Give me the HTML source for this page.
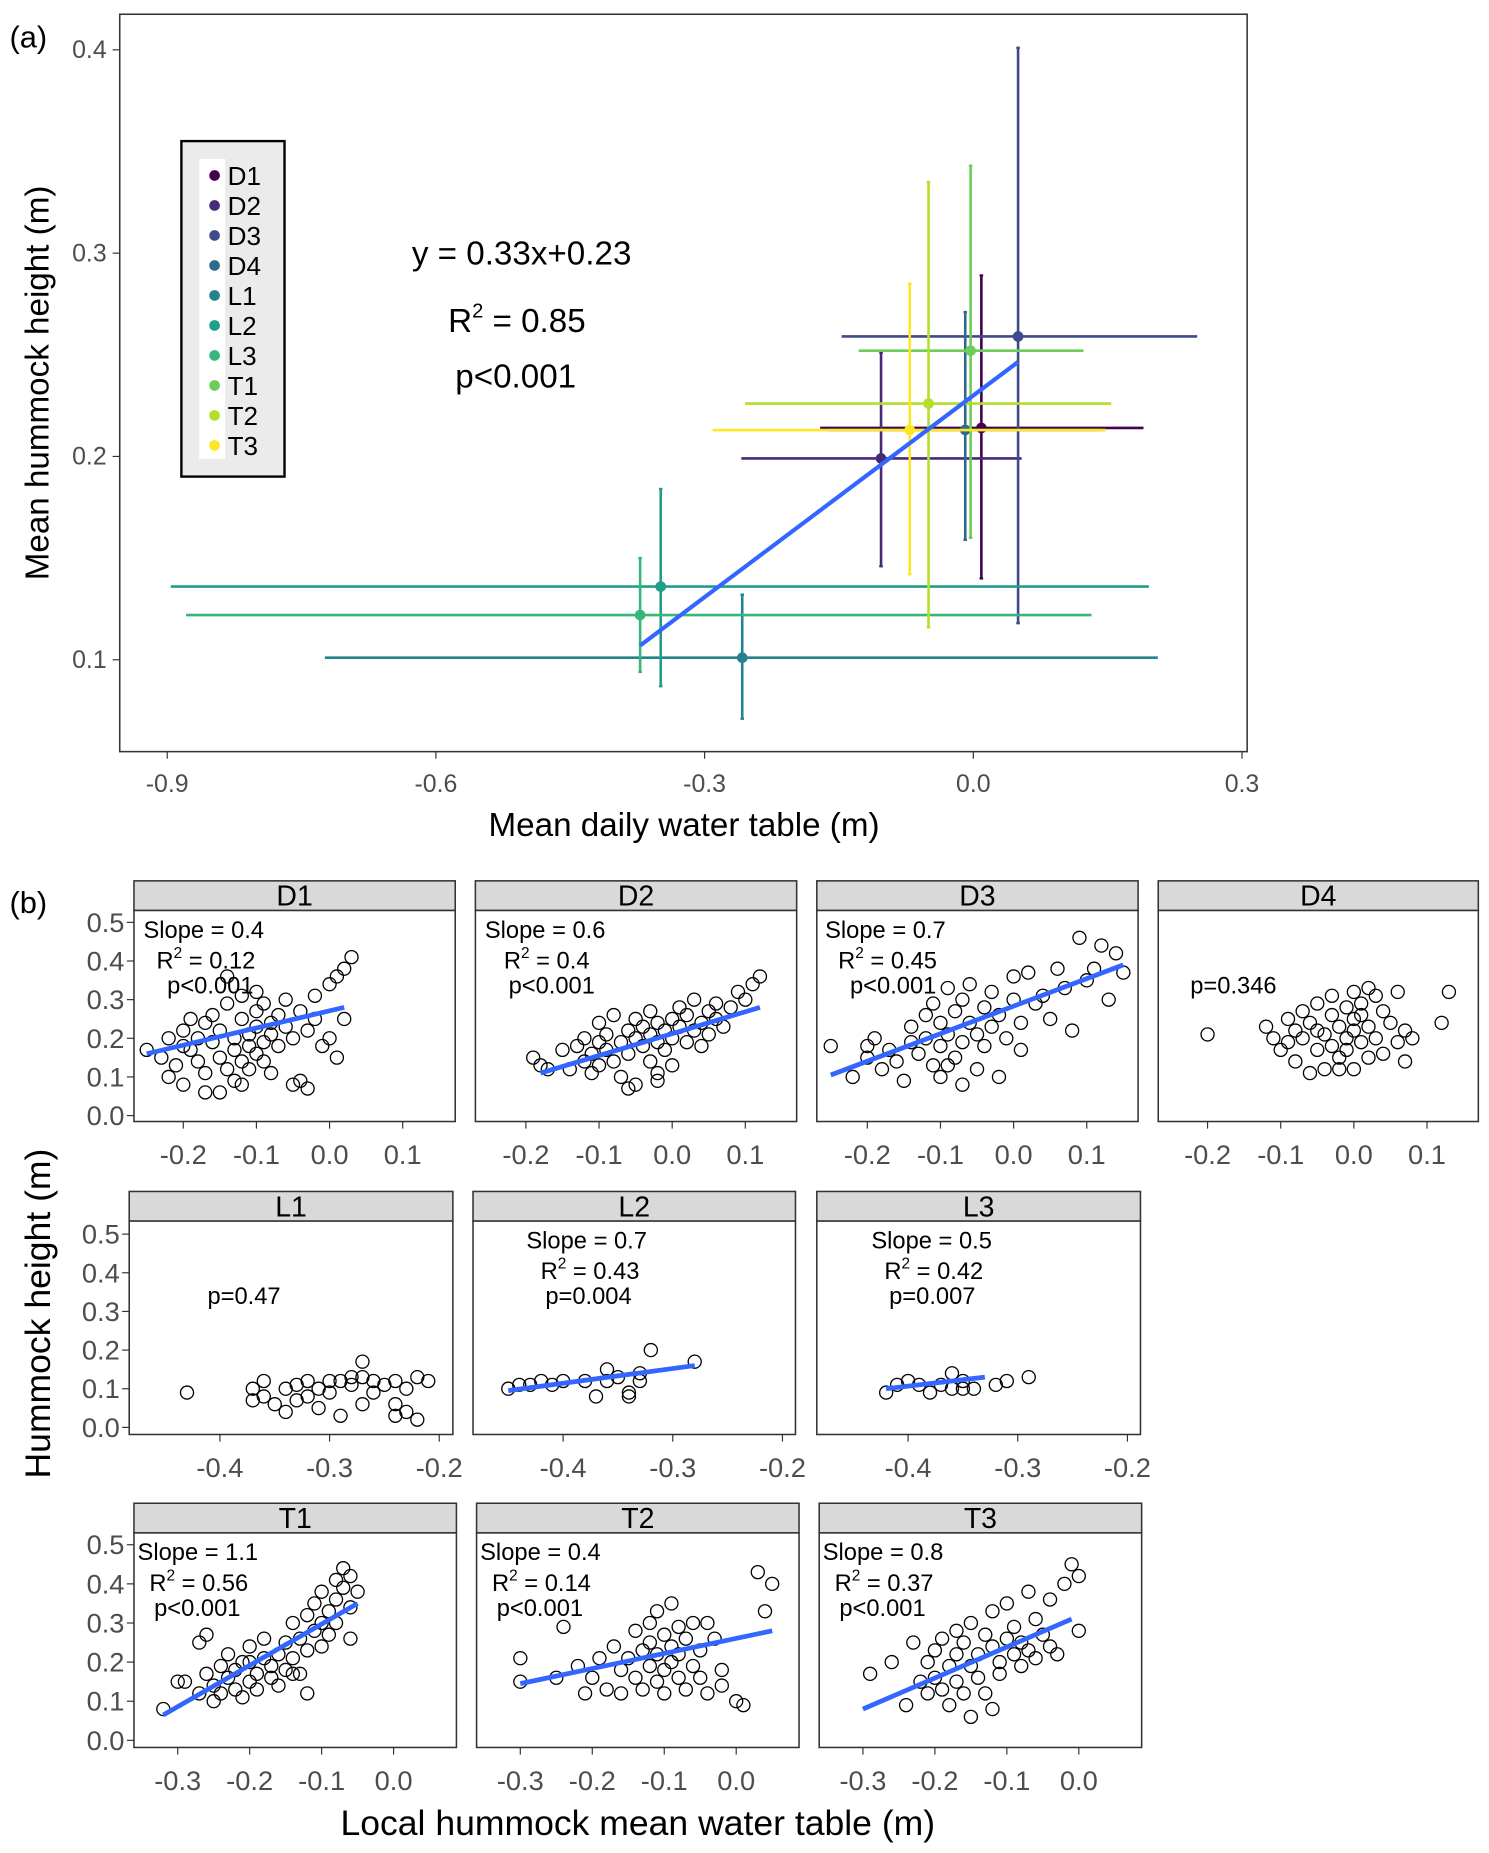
<!DOCTYPE html>
<html><head><meta charset="utf-8">
<style>
html,body{margin:0;padding:0;background:#fff;}
svg{display:block;font-family:"Liberation Sans",Arial,sans-serif;}
.tick{fill:#4d4d4d;font-size:21px;}
.btick{fill:#4d4d4d;font-size:23px;}
.ann{fill:#000;font-size:20px;}
</style></head>
<body>
<svg id="fig" width="1489" height="1853" viewBox="0 0 1256 1563" xmlns="http://www.w3.org/2000/svg">
<text x="8" y="40" font-size="26">(a)</text>
<text x="8" y="770" font-size="26">(b)</text>
<g id="pa"></g>
<g id="pb"></g>
</svg>
<script>
// ---------- Panel (a) data ----------
const siteNames = ["D1","D2","D3","D4","L1","L2","L3","T1","T2","T3"];
const siteColors = ["#440154","#482878","#3E4A89","#31688E","#26828E","#1F9E89","#35B779","#6DCD59","#B4DE2C","#FDE725"];
const meanX = [0.009,-0.103,0.050,-0.009,-0.258,-0.349,-0.372,-0.003,-0.050,-0.071];
const meanY = [0.214,0.199,0.259,0.213,0.101,0.136,0.122,0.252,0.226,0.213];
const xLo = [-0.171,-0.259,-0.147,-0.163,-0.724,-0.896,-0.879,-0.128,-0.255,-0.291];
const xHi = [0.190,0.054,0.250,0.144,0.206,0.196,0.132,0.123,0.154,0.148];
const yLo = [0.140,0.146,0.118,0.159,0.071,0.087,0.094,0.160,0.116,0.142];
const yHi = [0.289,0.251,0.401,0.271,0.132,0.184,0.150,0.343,0.335,0.285];
const fitAX = [-0.372,0.050];
const fitAY = [0.107,0.2465];
const aXTicks = [-0.9,-0.6,-0.3,0.0,0.3];
const aXTickLabels = ["-0.9","-0.6","-0.3","0.0","0.3"];
const aYTicks = [0.1,0.2,0.3,0.4];
const aYTickLabels = ["0.1","0.2","0.3","0.4"];

// ---------- Panel (b) data ----------
const ptsD1=[[-0.25,0.17],[-0.23,0.15],[-0.22,0.2],[-0.22,0.1],[-0.21,0.13],[-0.2,0.22],[-0.2,0.08],[-0.19,0.25],[-0.19,0.17],[-0.18,0.14],[-0.18,0.2],[-0.17,0.24],[-0.17,0.11],[-0.16,0.19],[-0.16,0.26],[-0.15,0.15],[-0.15,0.06],[-0.15,0.22],[-0.14,0.12],[-0.14,0.29],[-0.14,0.36],[-0.13,0.2],[-0.13,0.17],[-0.13,0.09],[-0.12,0.25],[-0.12,0.14],[-0.12,0.31],[-0.11,0.21],[-0.11,0.18],[-0.11,0.12],[-0.1,0.27],[-0.1,0.23],[-0.1,0.32],[-0.1,0.16],[-0.09,0.19],[-0.09,0.29],[-0.09,0.14],[-0.08,0.24],[-0.08,0.21],[-0.08,0.11],[-0.07,0.26],[-0.07,0.18],[-0.06,0.23],[-0.06,0.3],[-0.05,0.2],[-0.05,0.08],[-0.04,0.27],[-0.04,0.09],[-0.03,0.22],[-0.03,0.07],[-0.02,0.25],[-0.02,0.31],[-0.01,0.18],[0,0.34],[0,0.2],[0.01,0.36],[0.01,0.15],[0.02,0.38],[0.02,0.25],[0.03,0.41],[-0.12,0.08],[-0.17,0.06],[-0.2,0.18]];
const ptsD2=[[-0.19,0.15],[-0.18,0.13],[-0.17,0.12],[-0.15,0.17],[-0.14,0.12],[-0.13,0.18],[-0.12,0.14],[-0.12,0.2],[-0.11,0.16],[-0.1,0.19],[-0.1,0.13],[-0.1,0.24],[-0.09,0.17],[-0.09,0.21],[-0.08,0.14],[-0.08,0.26],[-0.07,0.19],[-0.07,0.1],[-0.06,0.22],[-0.06,0.16],[-0.05,0.2],[-0.05,0.25],[-0.05,0.08],[-0.04,0.18],[-0.04,0.23],[-0.03,0.21],[-0.03,0.14],[-0.03,0.27],[-0.02,0.19],[-0.02,0.24],[-0.02,0.11],[-0.01,0.22],[-0.01,0.17],[0,0.25],[0,0.2],[0,0.13],[0.01,0.23],[0.01,0.28],[0.02,0.19],[0.02,0.26],[0.03,0.22],[0.03,0.3],[0.04,0.24],[0.04,0.18],[0.05,0.27],[0.05,0.21],[0.06,0.29],[0.06,0.25],[0.07,0.23],[0.08,0.28],[0.09,0.32],[0.1,0.3],[0.11,0.34],[0.12,0.36],[-0.06,0.07],[-0.11,0.11],[-0.02,0.09]];
const ptsD3=[[-0.25,0.18],[-0.22,0.1],[-0.2,0.15],[-0.19,0.2],[-0.18,0.12],[-0.17,0.17],[-0.16,0.14],[-0.15,0.09],[-0.14,0.19],[-0.14,0.23],[-0.13,0.16],[-0.12,0.26],[-0.12,0.2],[-0.11,0.13],[-0.11,0.29],[-0.1,0.18],[-0.1,0.24],[-0.1,0.1],[-0.09,0.33],[-0.09,0.21],[-0.08,0.27],[-0.08,0.15],[-0.07,0.3],[-0.07,0.19],[-0.07,0.08],[-0.06,0.24],[-0.06,0.34],[-0.05,0.21],[-0.05,0.12],[-0.04,0.28],[-0.04,0.18],[-0.03,0.32],[-0.03,0.23],[-0.02,0.1],[-0.02,0.26],[-0.01,0.2],[0,0.3],[0,0.36],[0.01,0.24],[0.01,0.17],[0.02,0.37],[0.03,0.29],[0.04,0.31],[0.05,0.25],[0.06,0.38],[0.07,0.33],[0.08,0.22],[0.09,0.46],[0.1,0.35],[0.11,0.38],[0.12,0.44],[0.13,0.3],[0.14,0.42],[0.15,0.37],[-0.2,0.18],[-0.09,0.13]];
const ptsD4=[[-0.2,0.21],[-0.12,0.23],[-0.11,0.2],[-0.1,0.17],[-0.09,0.25],[-0.09,0.19],[-0.08,0.22],[-0.08,0.14],[-0.07,0.27],[-0.07,0.2],[-0.06,0.11],[-0.06,0.24],[-0.05,0.17],[-0.05,0.29],[-0.04,0.21],[-0.04,0.12],[-0.03,0.26],[-0.03,0.18],[-0.03,0.31],[-0.02,0.23],[-0.02,0.15],[-0.02,0.12],[-0.01,0.28],[-0.01,0.2],[-0.01,0.17],[0,0.25],[0,0.32],[0,0.22],[0,0.12],[0.01,0.19],[0.01,0.29],[0.01,0.26],[0.02,0.23],[0.02,0.15],[0.03,0.31],[0.03,0.2],[0.04,0.27],[0.04,0.16],[0.05,0.24],[0.06,0.19],[0.06,0.32],[0.07,0.14],[0.07,0.22],[0.08,0.2],[0.12,0.24],[0.13,0.32],[-0.05,0.22],[0.02,0.33]];
const ptsL1=[[-0.43,0.09],[-0.37,0.07],[-0.37,0.1],[-0.36,0.08],[-0.36,0.12],[-0.35,0.06],[-0.34,0.1],[-0.34,0.04],[-0.33,0.11],[-0.33,0.07],[-0.32,0.12],[-0.32,0.08],[-0.31,0.1],[-0.31,0.05],[-0.3,0.12],[-0.3,0.09],[-0.29,0.03],[-0.29,0.12],[-0.28,0.13],[-0.28,0.11],[-0.27,0.17],[-0.27,0.06],[-0.27,0.13],[-0.26,0.12],[-0.26,0.09],[-0.25,0.11],[-0.24,0.06],[-0.24,0.03],[-0.24,0.12],[-0.23,0.1],[-0.23,0.04],[-0.22,0.13],[-0.22,0.02],[-0.21,0.12]];
const ptsL2=[[-0.45,0.1],[-0.44,0.11],[-0.43,0.11],[-0.42,0.12],[-0.41,0.11],[-0.4,0.12],[-0.38,0.12],[-0.37,0.08],[-0.36,0.12],[-0.36,0.15],[-0.35,0.13],[-0.34,0.08],[-0.34,0.09],[-0.33,0.14],[-0.33,0.12],[-0.32,0.2],[-0.28,0.17]];
const ptsL3=[[-0.42,0.09],[-0.41,0.11],[-0.4,0.12],[-0.39,0.11],[-0.38,0.09],[-0.37,0.11],[-0.36,0.1],[-0.36,0.14],[-0.35,0.12],[-0.35,0.1],[-0.34,0.1],[-0.32,0.11],[-0.31,0.12],[-0.29,0.13]];
const ptsT1=[[-0.32,0.08],[-0.3,0.15],[-0.29,0.15],[-0.27,0.25],[-0.26,0.27],[-0.27,0.12],[-0.26,0.17],[-0.25,0.1],[-0.25,0.14],[-0.24,0.19],[-0.24,0.12],[-0.23,0.16],[-0.23,0.22],[-0.22,0.13],[-0.22,0.18],[-0.21,0.2],[-0.21,0.11],[-0.2,0.24],[-0.2,0.15],[-0.19,0.17],[-0.19,0.13],[-0.18,0.21],[-0.18,0.26],[-0.17,0.16],[-0.17,0.19],[-0.16,0.22],[-0.16,0.14],[-0.15,0.25],[-0.15,0.18],[-0.14,0.3],[-0.14,0.21],[-0.13,0.26],[-0.13,0.17],[-0.12,0.32],[-0.12,0.23],[-0.12,0.12],[-0.11,0.28],[-0.11,0.35],[-0.1,0.3],[-0.1,0.24],[-0.1,0.38],[-0.09,0.33],[-0.09,0.27],[-0.08,0.41],[-0.08,0.36],[-0.08,0.3],[-0.07,0.39],[-0.07,0.44],[-0.06,0.34],[-0.06,0.42],[-0.05,0.38],[-0.06,0.26],[-0.14,0.17],[-0.2,0.2]];
const ptsT2=[[-0.3,0.21],[-0.3,0.15],[-0.25,0.16],[-0.24,0.29],[-0.22,0.19],[-0.21,0.12],[-0.2,0.16],[-0.19,0.21],[-0.18,0.13],[-0.17,0.24],[-0.16,0.18],[-0.16,0.12],[-0.15,0.21],[-0.14,0.28],[-0.14,0.16],[-0.13,0.23],[-0.13,0.13],[-0.12,0.3],[-0.12,0.19],[-0.12,0.25],[-0.11,0.15],[-0.11,0.22],[-0.11,0.33],[-0.1,0.18],[-0.1,0.27],[-0.1,0.12],[-0.09,0.24],[-0.09,0.2],[-0.09,0.35],[-0.08,0.16],[-0.08,0.29],[-0.08,0.22],[-0.07,0.13],[-0.07,0.26],[-0.06,0.19],[-0.06,0.3],[-0.05,0.23],[-0.05,0.16],[-0.04,0.12],[-0.03,0.26],[-0.02,0.18],[-0.02,0.14],[0,0.1],[0.01,0.09],[0.03,0.43],[0.05,0.4],[0.04,0.33],[-0.04,0.3]];
const ptsT3=[[-0.29,0.17],[-0.26,0.2],[-0.24,0.09],[-0.23,0.25],[-0.22,0.15],[-0.21,0.12],[-0.21,0.2],[-0.2,0.23],[-0.2,0.16],[-0.19,0.26],[-0.19,0.13],[-0.18,0.19],[-0.18,0.09],[-0.17,0.22],[-0.17,0.28],[-0.17,0.15],[-0.16,0.12],[-0.16,0.25],[-0.15,0.19],[-0.15,0.3],[-0.15,0.06],[-0.14,0.22],[-0.14,0.16],[-0.13,0.27],[-0.13,0.12],[-0.12,0.24],[-0.12,0.33],[-0.11,0.2],[-0.11,0.17],[-0.1,0.26],[-0.1,0.35],[-0.09,0.22],[-0.09,0.29],[-0.08,0.25],[-0.08,0.19],[-0.07,0.23],[-0.07,0.38],[-0.06,0.21],[-0.05,0.27],[-0.04,0.24],[-0.04,0.36],[-0.03,0.22],[-0.02,0.4],[-0.01,0.45],[0,0.42],[0,0.28],[-0.06,0.31],[-0.12,0.08]];
const fitD1=[[-0.25,0.16],[0.02,0.28]];
const fitD2=[[-0.18,0.11],[0.12,0.28]];
const fitD3=[[-0.25,0.105],[0.15,0.39]];
const fitL2=[[-0.45,0.095],[-0.28,0.16]];
const fitL3=[[-0.42,0.1],[-0.33,0.13]];
const fitT1=[[-0.32,0.065],[-0.05,0.35]];
const fitT2=[[-0.3,0.145],[0.05,0.28]];
const fitT3=[[-0.3,0.08],[-0.01,0.31]];
const bYTicks=[0,0.1,0.2,0.3,0.4,0.5];
const bYTickLabels=["0.0","0.1","0.2","0.3","0.4","0.5"];
const row1XTicks=[-0.2,-0.1,0.0,0.1];
const row1XTickLabels=["-0.2","-0.1","0.0","0.1"];
const row2XTicks=[-0.4,-0.3,-0.2];
const row2XTickLabels=["-0.4","-0.3","-0.2"];
const row3XTicks=[-0.3,-0.2,-0.1,0.0];
const row3XTickLabels=["-0.3","-0.2","-0.1","0.0"];

const NS="http://www.w3.org/2000/svg";
function mk(tag,attrs,parent){const e=document.createElementNS(NS,tag);for(const k in attrs)e.setAttribute(k,attrs[k]);parent.appendChild(e);return e;}

// ---------- draw panel (a) ----------
(function(){
  const g=document.getElementById('pa');
  const X=v=>821+v*755.5, Y=v=>385-(v-0.2)*1715;
  const box=mk('rect',{x:101,y:12,width:951,height:622,fill:'#fff',stroke:'#333',"stroke-width":1.3},g);
  
  
  aXTicks.forEach((t,i)=>{
    mk('line',{x1:X(t),x2:X(t),y1:634,y2:640,stroke:'#333'},g);
    const tx=mk('text',{x:X(t),y:668,class:'tick','text-anchor':'middle'},g);tx.textContent=aXTickLabels[i];
    
    
  });
  aYTicks.forEach((t,i)=>{
    mk('line',{x1:95,x2:101,y1:Y(t),y2:Y(t),stroke:'#333'},g);
    const tx=mk('text',{x:90,y:Y(t)+7,class:'tick','text-anchor':'end'},g);tx.textContent=aYTickLabels[i];
    
    
  });
  const xt=mk('text',{x:577,y:705,'font-size':28,'text-anchor':'middle'},g);xt.textContent='Mean daily water table (m)';
  
  
  const yt=mk('text',{x:41,y:323,'font-size':28,'text-anchor':'middle',transform:'rotate(-90 41 323)'},g);yt.textContent='Mean hummock height (m)';
  
  
  siteNames.forEach((s,i)=>{
    const c=siteColors[i];
    const sg=mk('g',{},g);
    
    
    mk('line',{x1:X(xLo[i]),x2:X(xHi[i]),y1:Y(meanY[i]),y2:Y(meanY[i]),stroke:c,'stroke-width':2.2},sg);
    mk('line',{x1:X(meanX[i]),x2:X(meanX[i]),y1:Y(yLo[i]),y2:Y(yHi[i]),stroke:c,'stroke-width':2.2},sg);
    [yLo[i],yHi[i]].forEach(v=>mk('line',{x1:X(meanX[i])-1.5,x2:X(meanX[i])+1.5,y1:Y(v),y2:Y(v),stroke:c,'stroke-width':2},sg));
    const p=mk('circle',{cx:X(meanX[i]),cy:Y(meanY[i]),r:4.5,fill:c},sg);
    
    
  });
  const fl=mk('line',{x1:X(fitAX[0]),y1:Y(fitAY[0]),x2:X(fitAX[1]),y2:Y(fitAY[1]),stroke:'#3366FF','stroke-width':3.5},g);
  
  
  const e1=mk('text',{x:440,y:223,'font-size':28,'text-anchor':'middle'},g);e1.textContent='y = 0.33x+0.23';
  
  
  const e2=mk('text',{x:378,y:280,'font-size':28},g);e2.innerHTML='R<tspan dy="-12" font-size="17">2</tspan><tspan dy="12"> = 0.85</tspan>';
  
  
  const e3=mk('text',{x:384,y:327,'font-size':28},g);e3.textContent='p<0.001';
  
  
  const lg=mk('g',{},g);
  
  
  mk('rect',{x:153,y:119,width:87,height:283,fill:'#ebebeb',stroke:'#000','stroke-width':2},lg);
  mk('rect',{x:168,y:134,width:22,height:253,fill:'#fff'},lg);
  siteNames.forEach((s,i)=>{
    const y=148+i*25.3;
    const le=mk('g',{},lg);
    
    
    mk('circle',{cx:181,cy:y,r:4.5,fill:siteColors[i]},le);
    const t=mk('text',{x:192,y:y+8,'font-size':22},le);t.textContent=s;
  });
})();

// ---------- draw panel (b) ----------
(function(){
  const g=document.getElementById('pb');
  const facets=[
    {n:'D1',pts:ptsD1,fit:fitD1,ann:['Slope','0.4','0.12','p<0.001'],off:[8,19,28],L:113,R:384,T:768,B:946,row:1,x0:278},
    {n:'D2',pts:ptsD2,fit:fitD2,ann:['Slope','0.6','0.4','p<0.001'],off:[8,24,28],L:401,R:672,T:768,B:946,row:1,x0:567},
    {n:'D3',pts:ptsD3,fit:fitD3,ann:['Slope','0.7','0.45','p<0.001'],off:[7,18,28],L:689,R:960,T:768,B:946,row:1,x0:855},
    {n:'D4',pts:ptsD4,fit:null,ann:[null,null,null,'p=0.346'],off:[0,0,27],L:977,R:1247,T:768,B:946,row:1,x0:1142},
    {n:'L1',pts:ptsL1,fit:null,ann:[null,null,null,'p=0.47'],off:[0,0,66],L:109,R:382,T:1030,B:1210,row:2,x0:555.5},
    {n:'L2',pts:ptsL2,fit:fitL2,ann:['Slope','0.7','0.43','p=0.004'],off:[45,57,61],L:399,R:671,T:1030,B:1210,row:2,x0:845},
    {n:'L3',pts:ptsL3,fit:fitL3,ann:['Slope','0.5','0.42','p=0.007'],off:[46,57,61],L:689,R:962,T:1030,B:1210,row:2,x0:1136},
    {n:'T1',pts:ptsT1,fit:fitT1,ann:['Slope','1.1','0.56','p<0.001'],off:[3,13,17],L:113,R:385,T:1293,B:1474,row:3,x0:332},
    {n:'T2',pts:ptsT2,fit:fitT2,ann:['Slope','0.4','0.14','p<0.001'],off:[3,13,17],L:402,R:674,T:1293,B:1474,row:3,x0:621},
    {n:'T3',pts:ptsT3,fit:fitT3,ann:['Slope','0.8','0.37','p<0.001'],off:[3,13,17],L:691,R:963,T:1293,B:1474,row:3,x0:910}
  ];
  const rowCfg={1:{y0:941,ppu:617,ticks:row1XTicks,labs:row1XTickLabels,yp:326},
                2:{y0:1204,ppu:925,ticks:row2XTicks,labs:row2XTickLabels,yp:326},
                3:{y0:1468,ppu:607,ticks:row3XTicks,labs:row3XTickLabels,yp:330}};
  facets.forEach((f,fi)=>{
    const rc=rowCfg[f.row];
    const X=v=>f.x0+v*rc.ppu, Y=v=>rc.y0-v*rc.yp;
    const fg=mk('g',{},g);
    
    
    mk('rect',{x:f.L,y:f.T-25,width:f.R-f.L,height:25,fill:'#d9d9d9',stroke:'#333','stroke-width':1.3},fg);
    const st=mk('text',{x:(f.L+f.R)/2,y:f.T-4,'font-size':24,'text-anchor':'middle'},fg);st.textContent=f.n;
    
    
    mk('rect',{x:f.L,y:f.T,width:f.R-f.L,height:f.B-f.T,fill:'#fff',stroke:'#333','stroke-width':1.3},fg);
    rc.ticks.forEach((t,i)=>{
      mk('line',{x1:X(t),x2:X(t),y1:f.B,y2:f.B+6,stroke:'#333'},fg);
      const tx=mk('text',{x:X(t),y:f.B+36,class:'btick','text-anchor':'middle'},fg);tx.textContent=rc.labs[i];
    });
    if(fi===0||fi===4||fi===7){
      bYTicks.forEach((t,i)=>{
        mk('line',{x1:f.L-6,x2:f.L,y1:Y(t),y2:Y(t),stroke:'#333'},fg);
        const tx=mk('text',{x:f.L-8,y:Y(t)+8,class:'btick','text-anchor':'end'},fg);tx.textContent=bYTickLabels[i];
      });
    }
    f.pts.forEach(p=>{
      const c=mk('circle',{cx:X(p[0]),cy:Y(p[1]),r:5.5,fill:'none',stroke:'#000','stroke-width':1.1},fg);
      
      
    });
    if(f.fit){
      const l=mk('line',{x1:X(f.fit[0][0]),y1:Y(f.fit[0][1]),x2:X(f.fit[1][0]),y2:Y(f.fit[1][1]),stroke:'#3366FF','stroke-width':4},fg);
      
      
    }
    if(f.ann[0]){
      const a1=mk('text',{x:f.L+f.off[0],y:f.T+23,class:'ann'},fg);a1.textContent='Slope = '+f.ann[1];
      
      
      const a2=mk('text',{x:f.L+f.off[1],y:f.T+49,class:'ann'},fg);a2.innerHTML='R<tspan dy="-9" font-size="13">2</tspan><tspan dy="9"> = '+f.ann[2]+'</tspan>';
      
      
    }
    const a3=mk('text',{x:f.L+f.off[2],y:f.T+70,class:'ann'},fg);a3.textContent=f.ann[3];
    
    
  });
  const xt=mk('text',{x:538,y:1548,'font-size':30,'text-anchor':'middle'},g);xt.textContent='Local hummock mean water table (m)';
  
  
  const yt=mk('text',{x:42,y:1108,'font-size':30,'text-anchor':'middle',transform:'rotate(-90 42 1108)'},g);yt.textContent='Hummock height (m)';
  
  
})();
</script>
</body></html>
